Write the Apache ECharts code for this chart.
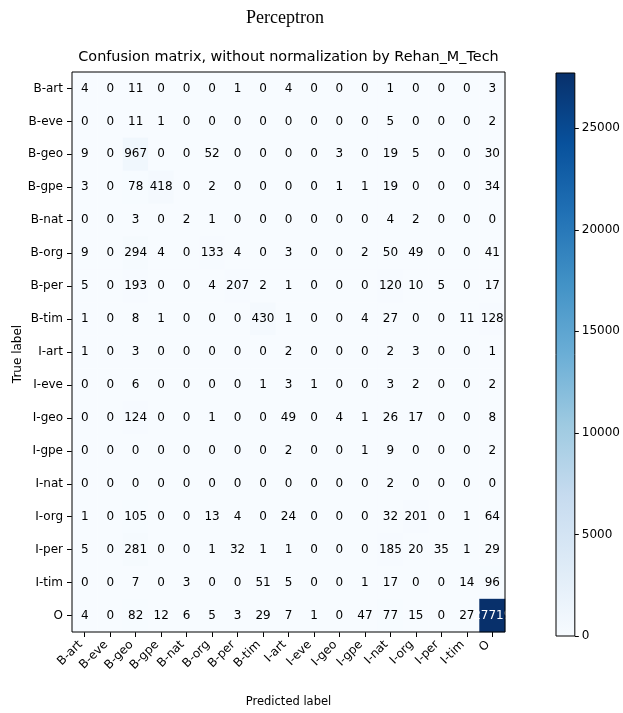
<!DOCTYPE html>
<html>
<head>
<meta charset="utf-8">
<script src="https://cdn.jsdelivr.net/npm/echarts@6/dist/echarts.min.js"></script>
<style>
  html, body { margin: 0; padding: 0; background: #fff; }
  #chart { width: 623px; height: 713px; }
</style>
</head>
<body>
<div id="chart"></div>
<script>
// Tag classes (rows = true label, columns = predicted label)
const classLabels = ['B-art', 'B-eve', 'B-geo', 'B-gpe', 'B-nat', 'B-org', 'B-per', 'B-tim',
  'I-art', 'I-eve', 'I-geo', 'I-gpe', 'I-nat', 'I-org', 'I-per', 'I-tim', 'O'];

// Confusion counts, one row per true label
const rowBArt = [4, 0, 11, 0, 0, 0, 1, 0, 4, 0, 0, 0, 1, 0, 0, 0, 3];
const rowBEve = [0, 0, 11, 1, 0, 0, 0, 0, 0, 0, 0, 0, 5, 0, 0, 0, 2];
const rowBGeo = [9, 0, 967, 0, 0, 52, 0, 0, 0, 0, 3, 0, 19, 5, 0, 0, 30];
const rowBGpe = [3, 0, 78, 418, 0, 2, 0, 0, 0, 0, 1, 1, 19, 0, 0, 0, 34];
const rowBNat = [0, 0, 3, 0, 2, 1, 0, 0, 0, 0, 0, 0, 4, 2, 0, 0, 0];
const rowBOrg = [9, 0, 294, 4, 0, 133, 4, 0, 3, 0, 0, 2, 50, 49, 0, 0, 41];
const rowBPer = [5, 0, 193, 0, 0, 4, 207, 2, 1, 0, 0, 0, 120, 10, 5, 0, 17];
const rowBTim = [1, 0, 8, 1, 0, 0, 0, 430, 1, 0, 0, 4, 27, 0, 0, 11, 128];
const rowIArt = [1, 0, 3, 0, 0, 0, 0, 0, 2, 0, 0, 0, 2, 3, 0, 0, 1];
const rowIEve = [0, 0, 6, 0, 0, 0, 0, 1, 3, 1, 0, 0, 3, 2, 0, 0, 2];
const rowIGeo = [0, 0, 124, 0, 0, 1, 0, 0, 49, 0, 4, 1, 26, 17, 0, 0, 8];
const rowIGpe = [0, 0, 0, 0, 0, 0, 0, 0, 2, 0, 0, 1, 9, 0, 0, 0, 2];
const rowINat = [0, 0, 0, 0, 0, 0, 0, 0, 0, 0, 0, 0, 2, 0, 0, 0, 0];
const rowIOrg = [1, 0, 105, 0, 0, 13, 4, 0, 24, 0, 0, 0, 32, 201, 0, 1, 64];
const rowIPer = [5, 0, 281, 0, 0, 1, 32, 1, 1, 0, 0, 0, 185, 20, 35, 1, 29];
const rowITim = [0, 0, 7, 0, 3, 0, 0, 51, 5, 0, 0, 1, 17, 0, 0, 14, 96];
const rowO    = [4, 0, 82, 12, 6, 5, 3, 29, 7, 1, 0, 47, 77, 15, 0, 27, 27719];

const matrix = [rowBArt, rowBEve, rowBGeo, rowBGpe, rowBNat, rowBOrg, rowBPer, rowBTim,
  rowIArt, rowIEve, rowIGeo, rowIGpe, rowINat, rowIOrg, rowIPer, rowITim, rowO];

// Colour bar tick values
const colorbarTicks = [0, 5000, 10000, 15000, 20000, 25000];

// matplotlib "Blues" colormap stops
const blues = ['#f7fbff', '#deebf7', '#c6dbef', '#9ecae1', '#6baed6',
  '#4292c6', '#2171b5', '#08519c', '#08306b'];

const maxVal = Math.max(...matrix.map(r => Math.max(...r)));
const threshold = maxVal / 2;

const cells = [];
matrix.forEach((row, i) => {
  row.forEach((v, j) => {
    cells.push({
      value: [j, i, v],
      label: { color: v > threshold ? '#ffffff' : '#000000' }
    });
  });
});

const font = 'DejaVu Sans';
const gridMain = { left: 72, top: 72, width: 433, height: 564 };
const gridBar = { left: 556, top: 73, width: 22, height: 563 };

const chart = echarts.init(document.getElementById('chart'), null, { renderer: 'canvas' });

chart.setOption({
  animation: false,
  backgroundColor: '#ffffff',
  graphic: [
    {
      type: 'text', x: 285, y: 18,
      style: {
        text: 'Perceptron',
        font: '18px "Liberation Serif"', fill: '#000',
        textAlign: 'center', textVerticalAlign: 'middle'
      }
    },
    {
      type: 'text', x: 288.5, y: 57,
      style: {
        text: 'Confusion matrix, without normalization by Rehan_M_Tech',
        font: '14.4px "DejaVu Sans"', fill: '#000',
        textAlign: 'center', textVerticalAlign: 'middle'
      }
    },
    {
      type: 'text', x: 18, y: 354, rotation: Math.PI / 2,
      style: {
        text: 'True label',
        font: '12px "DejaVu Sans"', fill: '#000',
        textAlign: 'center', textVerticalAlign: 'middle'
      }
    }
  ],
  grid: [
    Object.assign({ show: true, borderColor: '#000', borderWidth: 1, backgroundColor: 'transparent', z: 10 }, gridMain),
    Object.assign({ show: true, borderColor: '#000', borderWidth: 1, backgroundColor: 'transparent', z: 10 }, gridBar)
  ],
  xAxis: [
    {
      type: 'category', gridIndex: 0, data: classLabels,
      position: 'bottom',
      axisLine: { show: false },
      axisTick: { show: true, alignWithLabel: true, length: 5, lineStyle: { color: '#000' } },
      axisLabel: {
        rotate: 45, fontFamily: font, fontSize: 12, color: '#000',
        margin: 15, interval: 0, verticalAlign: 'bottom'
      },
      splitLine: { show: false },
      name: 'Predicted label', nameLocation: 'middle', nameGap: 64,
      nameTextStyle: { fontFamily: font, fontSize: 11.5, color: '#000' }
    },
    {
      type: 'category', gridIndex: 1, data: [''],
      show: false
    }
  ],
  yAxis: [
    {
      type: 'category', gridIndex: 0, data: classLabels, inverse: true,
      axisLine: { show: false },
      axisTick: { show: true, alignWithLabel: true, length: 5, lineStyle: { color: '#000' } },
      axisLabel: { fontFamily: font, fontSize: 12, color: '#000', margin: 9, interval: 0 },
      splitLine: { show: false }
    },
    {
      type: 'value', gridIndex: 1, position: 'right',
      min: 0, max: maxVal, interval: 5000,
      axisLine: { show: false },
      axisTick: { show: true, length: 4, lineStyle: { color: '#000' } },
      axisLabel: {
        fontFamily: font, fontSize: 12, color: '#000', margin: 7,
        showMaxLabel: false,
        formatter: v => (colorbarTicks.includes(v) ? String(v) : '')
      },
      splitLine: { show: false }
    }
  ],
  visualMap: {
    type: 'continuous', show: false, seriesIndex: 0,
    min: 0, max: maxVal, dimension: 2,
    inRange: { color: blues }
  },
  series: [
    {
      type: 'heatmap', xAxisIndex: 0, yAxisIndex: 0,
      data: cells,
      label: { show: true, fontFamily: font, fontSize: 12, formatter: p => String(p.value[2]) },
      itemStyle: { borderWidth: 0 },
      emphasis: { disabled: true }
    },
    {
      type: 'bar', xAxisIndex: 1, yAxisIndex: 1,
      data: [maxVal], barWidth: '100%',
      itemStyle: {
        color: new echarts.graphic.LinearGradient(0, 1, 0, 0,
          blues.map((c, k) => ({ offset: k / (blues.length - 1), color: c })))
      },
      silent: true
    }
  ]
});
</script>
</body>
</html>
